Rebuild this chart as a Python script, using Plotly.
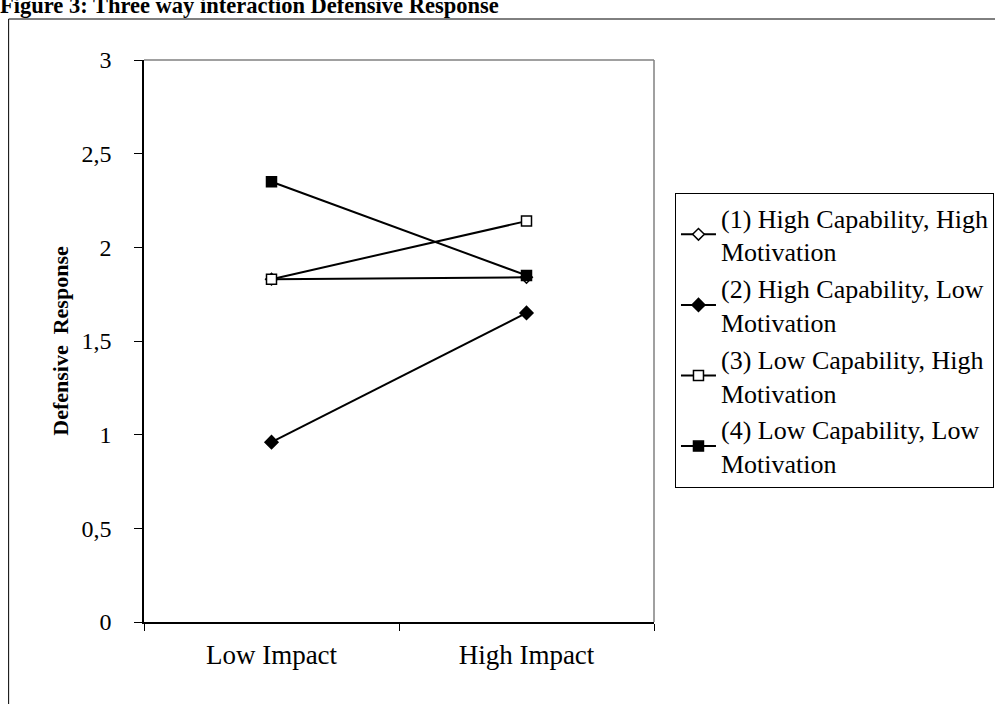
import plotly.graph_objects as go

categories = ["Low Impact", "High Impact"]
series_names = [
    "(1) High Capability, High<br>Motivation",
    "(2) High Capability, Low<br>Motivation",
    "(3) Low Capability, High<br>Motivation",
    "(4) Low Capability, Low<br>Motivation",
]
s1_values = [1.83, 1.84]
s2_values = [0.96, 1.65]
s3_values = [1.83, 2.14]
s4_values = [2.35, 1.85]
y_tickvals = [0, 0.5, 1, 1.5, 2, 2.5, 3]
y_ticktext = ["0", "0,5", "1", "1,5", "2", "2,5", "3"]

FONT = "Liberation Serif, Times New Roman, serif"

styles = [
    dict(symbol="diamond", color="white", size=9),
    dict(symbol="diamond", color="black", size=10),
    dict(symbol="square", color="white", size=10),
    dict(symbol="square", color="black", size=10),
]
values = [s1_values, s2_values, s3_values, s4_values]

fig = go.Figure()
for i, (name, vals, st) in enumerate(zip(series_names, values, styles)):
    fig.add_trace(go.Scatter(
        x=categories, y=vals, name=name, mode="lines+markers",
        line=dict(color="black", width=2),
        marker=dict(symbol=st["symbol"], color=st["color"], size=st["size"],
                    line=dict(color="black", width=1.5)),
        legendgroup=str(i),
    ))

W, H = 995, 704
L, R, T, B = 143.5, 654, 60, 622
pw, ph = R - L, B - T

def px(xs):
    return (xs - L) / pw

def py(ys):
    return (B - ys) / ph

fig.update_layout(
    width=W, height=H,
    margin=dict(l=L, r=W - R, t=T, b=H - B, pad=0, autoexpand=False),
    paper_bgcolor="white", plot_bgcolor="white",
    font=dict(family=FONT, color="black", size=26),
    showlegend=True,
    legend=dict(
        x=px(675), y=py(193), xanchor="left", yanchor="top",
        bordercolor="black", borderwidth=1,
        font=dict(family=FONT, size=26, color="black"),
        tracegroupgap=0, itemwidth=35,
    ),
    xaxis=dict(
        type="category", range=[-0.5, 1.5],
        showline=True, linecolor="black", linewidth=1.5,
        ticks="outside", ticklen=7, tickcolor="black", tickwidth=1,
        tickson="boundaries", showgrid=False, zeroline=False,
        ticklabelstandoff=8,
        tickfont=dict(family=FONT, size=27),
        fixedrange=True,
    ),
    yaxis=dict(
        range=[0, 3], tickvals=y_tickvals, ticktext=y_ticktext,
        showline=True, linecolor="black", linewidth=1.5,
        ticks="outside", ticklen=8, tickcolor="black", tickwidth=1,
        showgrid=False, zeroline=False, ticklabelstandoff=18,
        tickfont=dict(family=FONT, size=24),
        title=dict(text="<b>Defensive  Response</b>",
                   font=dict(family=FONT, size=22), standoff=7),
    ),
    shapes=[
        dict(type="line", xref="x domain", yref="y domain", x0=0, x1=1, y0=1, y1=1,
             line=dict(color="#808080", width=1.5)),
        dict(type="line", xref="x domain", yref="y domain", x0=1, x1=1, y0=0, y1=1,
             line=dict(color="#808080", width=1.5)),
        dict(type="rect", xref="paper", yref="paper",
             x0=px(8), x1=px(1010), y0=py(19), y1=py(720),
             line=dict(color="black", width=1), layer="below"),
    ],
    annotations=[
        dict(text="<b>Figure 3: Three way interaction Defensive Response</b>",
             xref="paper", yref="paper", x=px(-3), y=py(20),
             xanchor="left", yanchor="bottom", showarrow=False,
             font=dict(family=FONT, size=22.5, color="black")),
    ],
)

fig.write_html("out.html", post_script="document.body.style.margin='0';",
               config={"displayModeBar": False})
